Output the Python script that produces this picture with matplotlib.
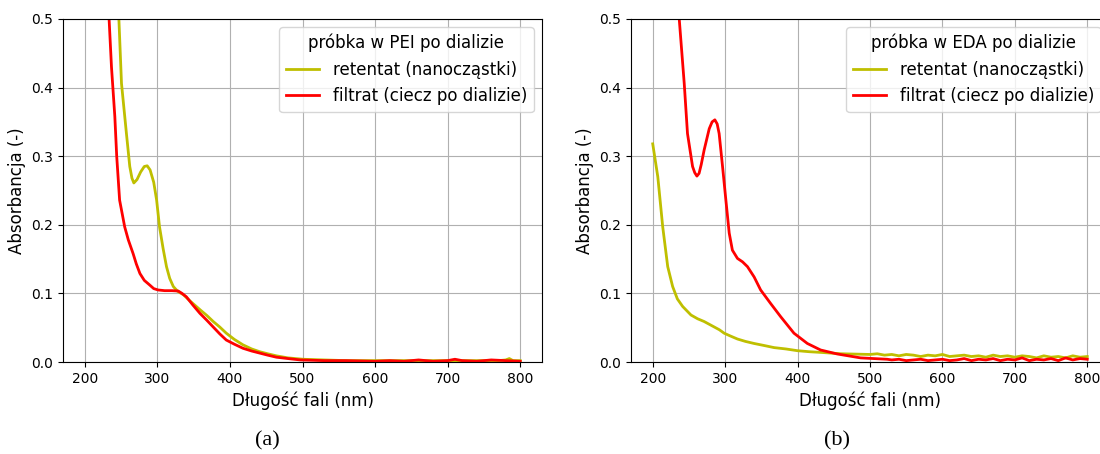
import matplotlib
matplotlib.use("Agg")
import matplotlib.pyplot as plt

# (a) sample in PEI after dialysis
pei_ret_nm = [240, 247, 250.6, 257.4, 262, 265, 267.6, 272, 277, 282, 286, 290, 295, 299,
              303, 308, 312.6, 317, 322, 328, 336, 345, 359, 368, 377, 386, 395, 406,
              418, 430, 441, 452, 464, 480, 501, 530, 560, 600, 650, 700, 740, 770,
              780, 785, 790, 800]
pei_ret_abs = [0.70, 0.50, 0.406, 0.333, 0.285, 0.268, 0.261, 0.266, 0.277, 0.285, 0.286,
               0.280, 0.262, 0.236, 0.197, 0.165, 0.139, 0.122, 0.110, 0.103, 0.098,
               0.089, 0.076, 0.068, 0.059, 0.051, 0.042, 0.033, 0.025, 0.019, 0.015,
               0.012, 0.009, 0.006, 0.004, 0.003, 0.002, 0.002, 0.002, 0.002, 0.002,
               0.002, 0.003, 0.005, 0.002, 0.002]

pei_fil_nm = [228, 233.5, 236.8, 241.4, 244, 248, 255, 260, 266.6, 271, 276, 282, 289.7,
              295, 301, 310, 320, 328.7, 334, 340, 349, 358.6, 368, 377, 386, 395, 406,
              418, 430, 441, 452, 464, 480, 497, 530, 560, 600, 620, 640, 660, 680, 700,
              710, 720, 740, 760, 780, 800]
pei_fil_abs = [0.70, 0.50, 0.43, 0.358, 0.30, 0.236, 0.197, 0.178, 0.158, 0.143, 0.129,
               0.119, 0.112, 0.107, 0.105, 0.104, 0.104, 0.1035, 0.100, 0.095, 0.083,
               0.071, 0.061, 0.051, 0.041, 0.032, 0.026, 0.020, 0.016, 0.013, 0.010,
               0.007, 0.005, 0.003, 0.002, 0.002, 0.001, 0.002, 0.001, 0.003, 0.001,
               0.002, 0.004, 0.002, 0.001, 0.003, 0.002, 0.001]

# (b) sample in EDA after dialysis
eda_ret_nm = [200, 207, 213.8, 220.7, 227.5, 234, 241.3, 252.8, 262, 271, 278, 285, 292,
              298.6, 307, 317, 328, 340, 354, 367.5, 384, 399.7, 416, 431.8, 460, 480,
              500, 510, 520, 530, 540, 550, 560, 570, 580, 590, 600, 610, 620, 630, 640,
              650, 660, 670, 680, 690, 700, 710, 720, 730, 740, 750, 760, 770, 780, 790,
              800]
eda_ret_abs = [0.318, 0.27, 0.197, 0.139, 0.110, 0.092, 0.081, 0.0685, 0.063, 0.059,
               0.055, 0.051, 0.047, 0.042, 0.038, 0.0335, 0.030, 0.027, 0.024, 0.021,
               0.019, 0.0165, 0.015, 0.014, 0.012, 0.0115,
               0.011, 0.012, 0.010, 0.011, 0.009, 0.011, 0.010, 0.008, 0.010, 0.009,
               0.011, 0.008, 0.009, 0.010, 0.008, 0.009, 0.007, 0.010, 0.008, 0.009,
               0.007, 0.009, 0.008, 0.006, 0.009, 0.007, 0.008, 0.006, 0.009, 0.007,
               0.008]

eda_fil_nm = [225, 236.6, 243.5, 248, 255, 258, 261, 264, 267, 271, 278, 282, 285.8, 289,
              291.7, 296.4, 301, 305.6, 310, 317, 324, 330.8, 340, 349, 363, 376.7, 395,
              413.5, 431.8, 454.8, 487, 523.7, 530, 540, 550, 560, 570, 580, 590, 600,
              610, 620, 630, 640, 650, 660, 670, 680, 690, 700, 710, 720, 730, 740, 750,
              760, 770, 780, 790, 800]
eda_fil_abs = [0.65, 0.50, 0.406, 0.333, 0.285, 0.276, 0.271, 0.275, 0.288, 0.309, 0.340,
               0.350, 0.353, 0.347, 0.333, 0.285, 0.236, 0.188, 0.163, 0.151, 0.146,
               0.139, 0.124, 0.105, 0.085, 0.066, 0.042, 0.027, 0.0175, 0.0117, 0.006,
               0.004, 0.003, 0.004, 0.002, 0.003, 0.004, 0.002, 0.003, 0.004, 0.002,
               0.003, 0.005, 0.002, 0.004, 0.003, 0.005, 0.002, 0.004, 0.003, 0.006,
               0.002, 0.004, 0.003, 0.005, 0.002, 0.006, 0.003, 0.005, 0.004]

panels = [
    ("próbka w PEI po dializie", pei_ret_nm, pei_ret_abs, pei_fil_nm, pei_fil_abs, "(a)"),
    ("próbka w EDA po dializie", eda_ret_nm, eda_ret_abs, eda_fil_nm, eda_fil_abs, "(b)"),
]


def main():
    fig = plt.figure(figsize=(11, 4.54), dpi=100)
    rects = [
        [63 / 1100, 92 / 454, 479 / 1100, 343 / 454],
        [631 / 1100, 92 / 454, 478 / 1100, 343 / 454],
    ]
    caption_x = [267 / 1100, 837 / 1100]

    for i, (title, rx, ry, fx, fy, cap) in enumerate(panels):
        ax = fig.add_axes(rects[i])
        ax.plot(rx, ry, color="y", lw=2, label="retentat (nanocząstki)")
        ax.plot(fx, fy, color="r", lw=2, label="filtrat (ciecz po dializie)")
        ax.set_xlim(170, 830)
        ax.set_ylim(0, 0.5)
        ax.set_xticks([200, 300, 400, 500, 600, 700, 800])
        ax.set_yticks([0.0, 0.1, 0.2, 0.3, 0.4, 0.5])
        ax.tick_params(labelsize=10)
        ax.set_xlabel("Długość fali (nm)", fontsize=12)
        ax.set_ylabel("Absorbancja (-)", fontsize=12)
        ax.grid(True)
        ax.legend(title=title, loc="upper right", fontsize=12, title_fontsize=12)
        fig.text(caption_x[i], 1 - 441 / 454, cap, ha="center", va="center",
                 family="Liberation Serif", fontsize=16)

    fig.savefig("out.png", dpi=100)


if __name__ == "__main__":
    main()
